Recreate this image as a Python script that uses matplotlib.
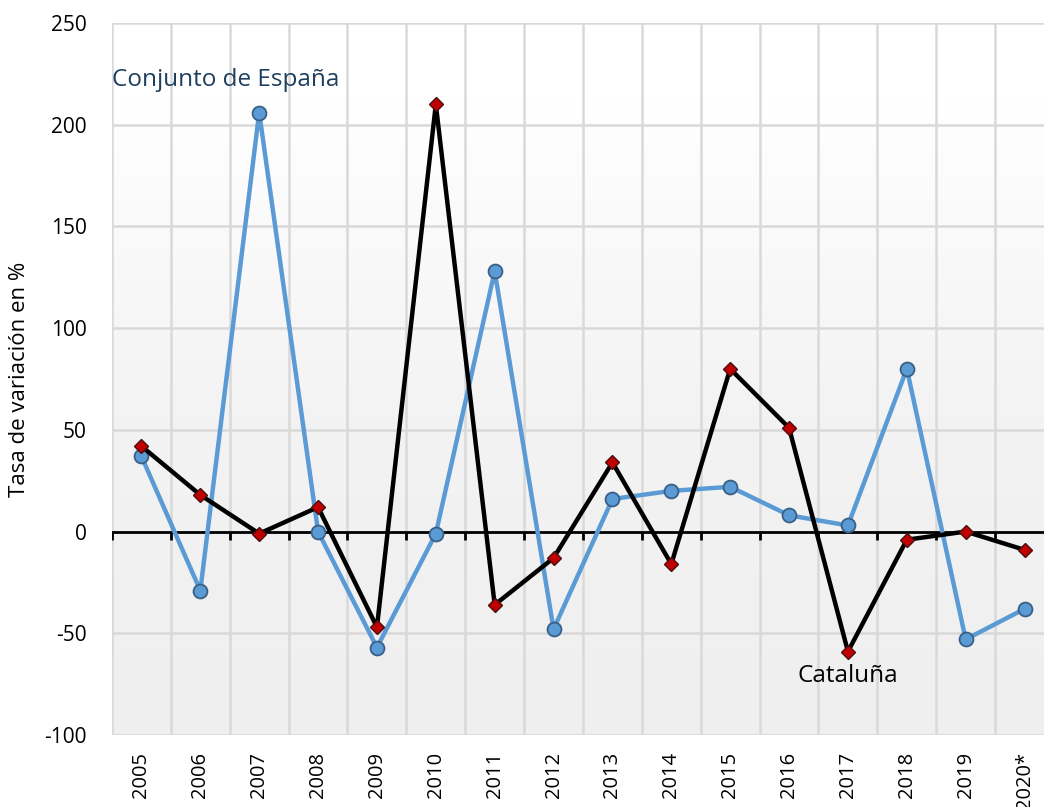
import numpy as np
import matplotlib
matplotlib.use('Agg')
import matplotlib.pyplot as plt

# data
years = ['2005', '2006', '2007', '2008', '2009', '2010', '2011', '2012',
         '2013', '2014', '2015', '2016', '2017', '2018', '2019', '2020*']
espana = [37, -29, 206, 0, -57, -1, 128, -48, 16, 20, 22, 8, 3, 80, -53, -38]
cataluna = [42, 18, -1, 12, -47, 210, -36, -13, 34, -16, 80, 51, -59, -4, 0, -9]

plt.rcParams['font.family'] = ['Open Sans', 'DejaVu Sans']
plt.rcParams['axes.unicode_minus'] = False

fig = plt.figure(figsize=(10.44, 8.07), dpi=100)
ax = fig.add_axes([112 / 1044, 1 - 735 / 807, 942 / 1044, 712 / 807])

x = np.arange(len(years))
ax.set_xlim(-0.5, len(years) - 0.5)
ax.set_ylim(-100, 250)

# background gradient, light grey at bottom to white at top
bg = matplotlib.colors.LinearSegmentedColormap.from_list(
    'bg', [(0, '#efefef'), (0.45, '#f3f3f3'), (0.9, '#ffffff'), (1, '#ffffff')])
grad = np.linspace(0, 1, 512).reshape(-1, 1)
ax.imshow(grad, extent=(-0.5, len(years) - 0.5, -100, 250), aspect='auto',
          cmap=bg, origin='lower', interpolation='bilinear', zorder=0)

# grid
for b in np.arange(len(years) + 1) - 0.5:
    ax.axvline(b, color='#d9d9d9', lw=1.8, zorder=1)
for yv in range(-100, 251, 50):
    ax.axhline(yv, color='#d9d9d9', lw=1.8, zorder=1)

# zero line with ticks at the category boundaries
ax.axhline(0, color='black', lw=2, zorder=2)
ax.vlines(np.arange(len(years) + 1) - 0.5, -4, 0, color='black', lw=2, zorder=2)

ax.plot(x, espana, color='#5b9bd5', lw=3.2, marker='o', ms=10,
        mfc='#5b9bd5', mec='#3a5f86', mew=1.3, zorder=3)
ax.plot(x, cataluna, color='black', lw=3.2, marker='D', ms=7,
        mfc='#c00000', mec='#4a1010', mew=1.0, zorder=4)

for s in ax.spines.values():
    s.set_visible(False)

ax.set_yticks(range(-100, 251, 50))
ax.set_xticks(x)
ax.set_xticklabels(years, rotation=90, fontsize=14.5)
ax.tick_params(axis='y', length=0, labelsize=15, pad=18)
ax.tick_params(axis='x', length=0, pad=12)
ax.set_ylabel('Tasa de variación en %', fontsize=16)
ax.yaxis.set_label_coords(-0.087, 0.5)

ax.text(-0.5, 222, 'Conjunto de España', color='#1f3f5f', fontsize=17.5,
        ha='left', va='center')
ax.text(12, -71, 'Cataluña', color='black', fontsize=17.5,
        ha='center', va='center')

fig.savefig('out.png', dpi=100)
